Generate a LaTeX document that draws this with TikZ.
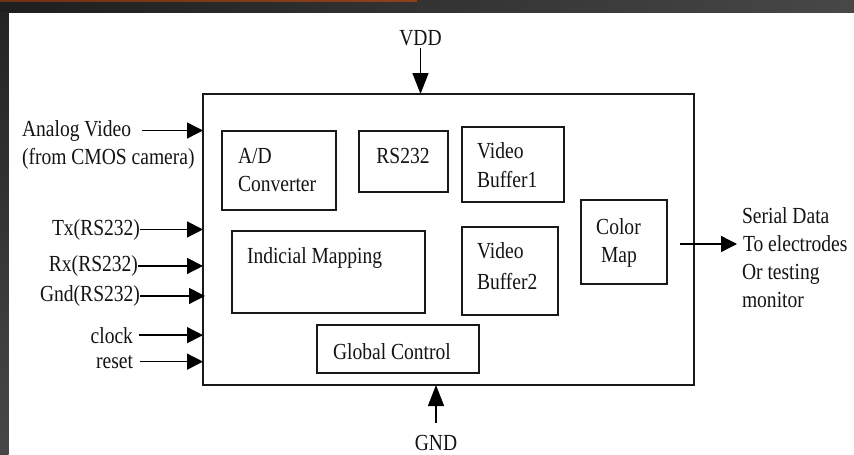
\documentclass[tikz,border=0pt]{standalone}
\usepackage{fontspec}
\setmainfont[FakeStretch=0.85]{Liberation Serif}
\usetikzlibrary{arrows.meta}
\begin{document}
\begin{tikzpicture}[x=1pt,y=-1pt,
  box/.style={draw=black!90, line width=1.5pt, inner sep=0pt, outer sep=0pt, anchor=north west},
  lbl/.style={inner sep=0pt, outer sep=0pt, font=\fontsize{23}{28}\selectfont, text=black!92},
  arr/.style={draw=black, line width=1.4pt, -{Triangle[length=16pt,width=16pt]}},
  varr/.style={draw=black, line width=1.4pt, -{Triangle[length=21pt,width=16pt]}}]
\useasboundingbox (0,0) rectangle (854,455);
% background frame
\fill[white] (0,0) rectangle (854,455);
\shade[left color=black!88, right color=black!72] (0,0) rectangle (854,12.7);
\shade[top color=black!86, bottom color=black!72] (0,12.7) rectangle (8.5,455);
\shade[left color={rgb,255:red,110;green,50;blue,20}, right color={rgb,255:red,140;green,65;blue,25}] (0,0) rectangle (417,1.8);

% boxes
\node[box, minimum width=491pt, minimum height=291pt] (main) at (203,94) {};
\node[box, minimum width=114pt, minimum height=79pt] (ad) at (222,131) {};
\node[box, minimum width=89pt, minimum height=61pt] (rs) at (359,131) {};
\node[box, minimum width=102pt, minimum height=75pt] (vb1) at (462,127) {};
\node[box, minimum width=193pt, minimum height=82pt] (im) at (232,231) {};
\node[box, minimum width=96pt, minimum height=88pt] (vb2) at (462,227) {};
\node[box, minimum width=86pt, minimum height=84pt] (cm) at (581,200) {};
\node[box, minimum width=162pt, minimum height=48pt] (gc) at (317,325) {};

% box labels
\node[lbl, anchor=base west] (adA) at (238,163) {A/D};
\node[lbl, anchor=base west] (adB) at (238,191.5) {Converter};
\node[lbl, anchor=base] (rsT) at (403,163) {RS232};
\node[lbl, anchor=base west] (vb1A) at (477,158) {Video};
\node[lbl, anchor=base west] (vb1B) at (477,187) {Buffer1};
\node[lbl, anchor=base west] (imT) at (247,263) {Indicial Mapping};
\node[lbl, anchor=base west] (vb2A) at (477,258) {Video};
\node[lbl, anchor=base west] (vb2B) at (477,289) {Buffer2};
\node[lbl, anchor=base] (cmA) at (618.5,234) {Color};
\node[lbl, anchor=base] (cmB) at (619,262.5) {Map};
\node[lbl, anchor=base west] (gcT) at (333,359) {Global Control};

% power
\node[lbl, anchor=base] (vdd) at (420.5,45) {VDD};
\draw[varr, shorten <=3pt] (vdd.south) -- (vdd.south |- main.north);
\node[lbl, anchor=base] (gnd) at (436,450) {GND};
\draw[varr, shorten <=12pt] (gnd.north) -- (gnd.north |- main.south);

% inputs
\node[lbl, anchor=base west] (av1) at (22,136) {Analog Video};
\node[lbl, anchor=base west] (av2) at (22,164) {(from CMOS camera)};
\draw[arr, shorten <=11pt] (av1.east) -- (av1.east -| main.west);
\node[lbl, anchor=base east] (tx) at (140,235) {Tx(RS232)};
\draw[arr] (tx.east) -- (tx.east -| main.west);
\node[lbl, anchor=base east] (rx) at (138,271.5) {Rx(RS232)};
\draw[arr] (rx.east) -- (rx.east -| main.west);
\node[lbl, anchor=base east] (gd) at (140,301.5) {Gnd(RS232)};
\draw[arr] (gd.east) -- ([xshift=2pt]gd.east -| main.west);
\node[lbl, anchor=base east] (clk) at (133,343) {clock};
\draw[arr, shorten <=6pt] (clk.east) -- (clk.east -| main.west);
\node[lbl, anchor=base east] (rst) at (133,368) {reset};
\draw[arr, shorten <=7pt] (rst.east) -- (rst.east -| main.west);

% output
\node[lbl, anchor=base west] (sd1) at (742,223) {Serial Data};
\node[lbl, anchor=base west] (sd2) at (743,251) {To electrodes};
\node[lbl, anchor=base west] (sd3) at (742,279) {Or testing};
\node[lbl, anchor=base west] (sd4) at (742,307) {monitor};
\coordinate (outs) at (680,244);
\draw[arr, shorten >=6pt] (outs) -- (outs -| sd2.west);
\end{tikzpicture}
\end{document}
